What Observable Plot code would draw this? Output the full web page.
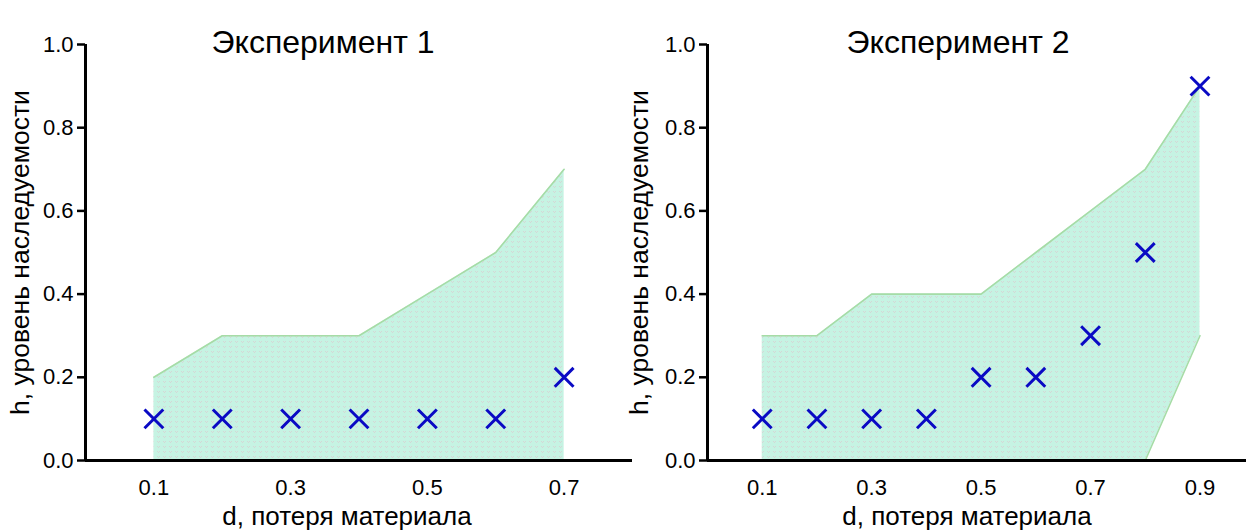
<!DOCTYPE html>
<html><head><meta charset="utf-8">
<script src="https://cdn.jsdelivr.net/npm/d3@7"></script>
<script src="https://cdn.jsdelivr.net/npm/@observablehq/plot@0.6"></script>
<style>
body{margin:0;background:#fff}
#row{display:flex;width:1246px;height:530px;overflow:hidden}
#row svg{flex:none;overflow:visible}
</style>
</head><body><div id="row"></div>
<script>
// Experiment 1
const d1 = [0.1, 0.2, 0.3, 0.4, 0.5, 0.6, 0.7];
const lower1 = [0, 0, 0, 0, 0, 0, 0];
const upper1 = [0.2, 0.3, 0.3, 0.3, 0.4, 0.5, 0.7];
const h1 = [0.1, 0.1, 0.1, 0.1, 0.1, 0.1, 0.2];
// Experiment 2
const d2 = [0.1, 0.2, 0.3, 0.4, 0.5, 0.6, 0.7, 0.8, 0.9];
const lower2 = [0, 0, 0, 0, 0, 0, 0, 0, 0.3];
const upper2 = [0.3, 0.3, 0.4, 0.4, 0.4, 0.5, 0.6, 0.7, 0.9];
const h2 = [0.1, 0.1, 0.1, 0.1, 0.2, 0.2, 0.3, 0.5, 0.9];
// ticks and labels
const xTicks1 = [0.1, 0.3, 0.5, 0.7];
const xTicks2 = [0.1, 0.3, 0.5, 0.7, 0.9];
const yTicks = [0, 0.2, 0.4, 0.6, 0.8, 1.0];
const titles = ["Эксперимент 1", "Эксперимент 2"];
const xLabel = "d, потеря материала";
const yLabel = "h, уровень наследуемости";

const FONT = "'Liberation Sans', Arial, sans-serif";
const fmt = d3.format(".1f");

function panel(cfg) {
  const band = cfg.d.map((d, i) => ({d, lo: cfg.lower[i], hi: cfg.upper[i]}));
  const pts = cfg.d.map((d, i) => ({d, h: cfg.h[i]}));
  const plot = Plot.plot({
    width: cfg.width, height: 530,
    marginLeft: cfg.marginLeft, marginRight: cfg.marginRight,
    marginTop: 44, marginBottom: 70,
    x: {domain: cfg.xDomain, axis: null},
    y: {domain: [0, 1]},
    style: {fontFamily: FONT, color: "#000", background: "transparent", overflow: "visible"},
    marks: [
      Plot.areaY(band, {x: "d", y1: "lo", y2: "hi", fill: `url(#${cfg.pid})`}),
      Plot.lineY(band, {x: "d", y: "hi", stroke: "#a6dca6", strokeWidth: 1.6}),
      Plot.lineY(band, {x: "d", y: "lo", stroke: "#a6dca6", strokeWidth: 1.6}),
      Plot.ruleY([0], {stroke: "#000", strokeWidth: 3}),
      Plot.ruleX([0], {stroke: "#000", strokeWidth: 3}),
      Plot.axisY({ticks: yTicks, tickFormat: () => "", tickSize: 8, strokeWidth: 2.5, label: null}),
      Plot.text(yTicks, {y: d => d, frameAnchor: "left", textAnchor: "end", dx: -12, text: fmt, fontSize: 22, fill: "#000"}),
      Plot.text(cfg.xTicks, {x: d => d, frameAnchor: "bottom", dy: 34, text: fmt, fontSize: 22, fill: "#000"}),
      Plot.dot(pts, {x: "d", y: "h", symbol: "times", r: 8.6, stroke: "#0a0ac4", strokeWidth: 3}),
      Plot.text([cfg.title], {frameAnchor: "top", dy: -14, dx: cfg.titleDx, fontSize: 32, fill: "#000"}),
      Plot.text([xLabel], {frameAnchor: "bottom", dy: 64, dx: cfg.xlabDx, fontSize: 26, fill: "#000"}),
      Plot.text([yLabel], {frameAnchor: "left", textAnchor: "middle", dx: cfg.ylabDx, rotate: -90, fontSize: 26.5, fill: "#000"})
    ]
  });
  // pattern fill resembling the dotted mint texture
  const ns = "http://www.w3.org/2000/svg";
  const defs = document.createElementNS(ns, "defs");
  defs.innerHTML = `<pattern id="${cfg.pid}" width="6" height="5" patternUnits="userSpaceOnUse">
      <rect width="6" height="5" fill="#c6f3e3"/>
      <path d="M1,1h1v1h1v-1h1v1h-1v1h-1v-1h-1z" fill="#d6d3d3" opacity="0.85"/>
    </pattern>`;
  plot.insertBefore(defs, plot.firstChild);
  return plot;
}

const row = document.getElementById("row");
row.appendChild(panel({d: d1, lower: lower1, upper: upper1, h: h1, width: 640, marginLeft: 85, marginRight: 8,
  xDomain: [0, 0.8], xTicks: xTicks1, title: titles[0], titleDx: -36, xlabDx: -12, ylabDx: -65, pid: "pat1"}));
row.appendChild(panel({d: d2, lower: lower2, upper: upper2, h: h2, width: 606, marginLeft: 67, marginRight: 0,
  xDomain: [0, 0.985], xTicks: xTicks2, title: titles[1], titleDx: -19, xlabDx: -10, ylabDx: -68, pid: "pat2"}));
</script>
</body></html>
